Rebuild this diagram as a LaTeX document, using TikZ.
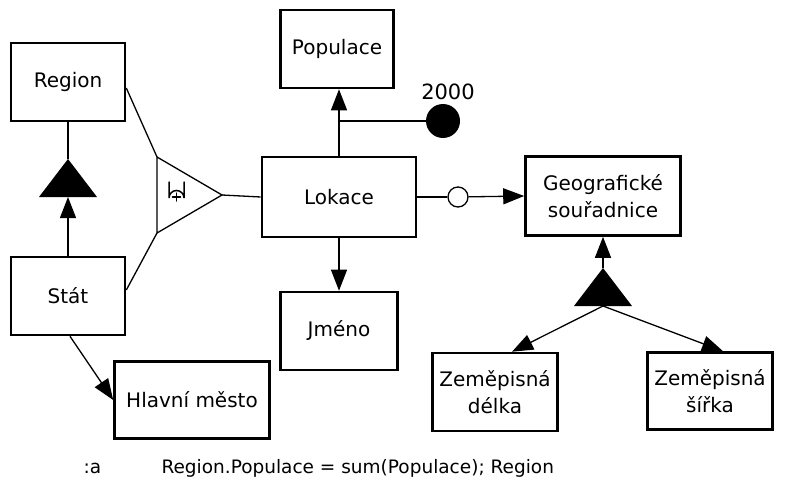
\documentclass[tikz,border=0pt]{standalone}
\usepackage{fontspec}
\setmainfont{DejaVu Sans}
\usetikzlibrary{arrows.meta,calc}

\begin{document}
\begin{tikzpicture}[x=1pt,y=-1pt,
  box/.style={draw,line width=2.6pt,inner sep=0pt,align=center,
    font=\fontsize{20}{27}\selectfont},
  link/.style={line width=1.3pt},
  arr/.style={link,-{Triangle[length=21pt,width=16pt]}},
  isa/.style={fill=black},
  ball/.style={circle,fill=black,minimum size=34pt,inner sep=0pt},
  optional/.style={circle,draw,fill=white,line width=1.3pt,minimum size=20pt,inner sep=0pt},
  glyph/.style={line width=1.5pt,line cap=round}]
\useasboundingbox (0,0) rectangle (791,489);

% entity boxes
\node[box,minimum width=114pt,minimum height=78pt] (region) at (68,82) {Region};
\node[box,minimum width=113pt,minimum height=78pt] (populace) at (337,49) {Populace};
\node[box,minimum width=154pt,minimum height=80pt] (lokace) at (339,197) {Lokace};
\node[box,minimum width=155pt,minimum height=79pt] (geo) at (603,196) {Geografické\\souřadnice};
\node[box,minimum width=114pt,minimum height=78pt] (stat) at (68,296) {Stát};
\node[box,minimum width=117pt,minimum height=78pt] (jmeno) at (339,331) {Jméno};
\node[box,minimum width=155pt,minimum height=77pt] (hlavni) at (192,400) {Hlavní město};
\node[box,minimum width=125pt,minimum height=78pt] (delka) at (495,392) {Zeměpisná\\délka};
\node[box,minimum width=125pt,minimum height=77pt] (sirka) at (710,391) {Zeměpisná\\šířka};

% specialisation Region <- Stát
\coordinate (isaA) at (68,159);
\coordinate (isaAbase) at (68,197);
\fill[isa] (isaA) -- (39,197) -- (97,197) -- cycle;
\draw[link] (region.south) -- (isaA);
\draw[arr] (stat.north) -- (isaAbase);

% specialisation Geografické souřadnice -> délka, šířka
\coordinate (isaB) at (603,268);
\coordinate (isaBbase) at (603,306);
\fill[isa] (isaB) -- (574,306) -- (632,306) -- cycle;
\draw[arr] (isaB) -- (geo.south);
\draw[arr] (isaBbase) -- ($(delka.north)+(17,0)$);
\draw[arr] (isaBbase) -- ($(sirka.north)+(13,0)$);

% disjoint union of Region and Stát
\coordinate (u1) at (157,157);
\coordinate (u2) at (157,233);
\coordinate (u3) at (222,195);
\draw[link] (u1) -- (u2) -- (u3) -- cycle;
% the union-with-plus sign inside the triangle
\draw[glyph] (169,182) -- (169,198) arc[start angle=180,end angle=360,radius=7.5] -- (184,182);
\draw[glyph] (172.5,197) -- (180.5,197) (176.5,193) -- (176.5,201);
\draw[link] ($(region.east)+(0,6)$) -- (u1);
\draw[link] ($(stat.east)+(0,-6)$) -- (u2);
\draw[link] (u3) -- (lokace.west);

% Lokace -> Populace with a value marker
\draw[arr] (lokace.north) -- (lokace.north |- populace.south);
\node[ball] (val) at (443,121) {};
\node[font=\fontsize{21}{21}\selectfont] (year) at (448,92) {2000};
\coordinate (branch) at (lokace.north |- val);
\draw[link] (branch) -- (val);

% optional link Lokace -> Geografické souřadnice
\node[optional] (opt) at (458,197) {};
\draw[link] (lokace.east) -- (opt);
\draw[arr] (opt) -- (geo.west);

% other links
\draw[arr] (lokace.south) -- (jmeno.north);
\draw[arr] ($(stat.south)+(2,0)$) -- (hlavni.west);

% aggregation rule
\node[anchor=base west,font=\fontsize{18.5}{22}\selectfont] (lbl) at (80,473) {:a};
\node[anchor=base west,font=\fontsize{18.5}{22}\selectfont] (rule) at (158,473) {Region.Populace = sum(Populace); Region};
\end{tikzpicture}
\end{document}
